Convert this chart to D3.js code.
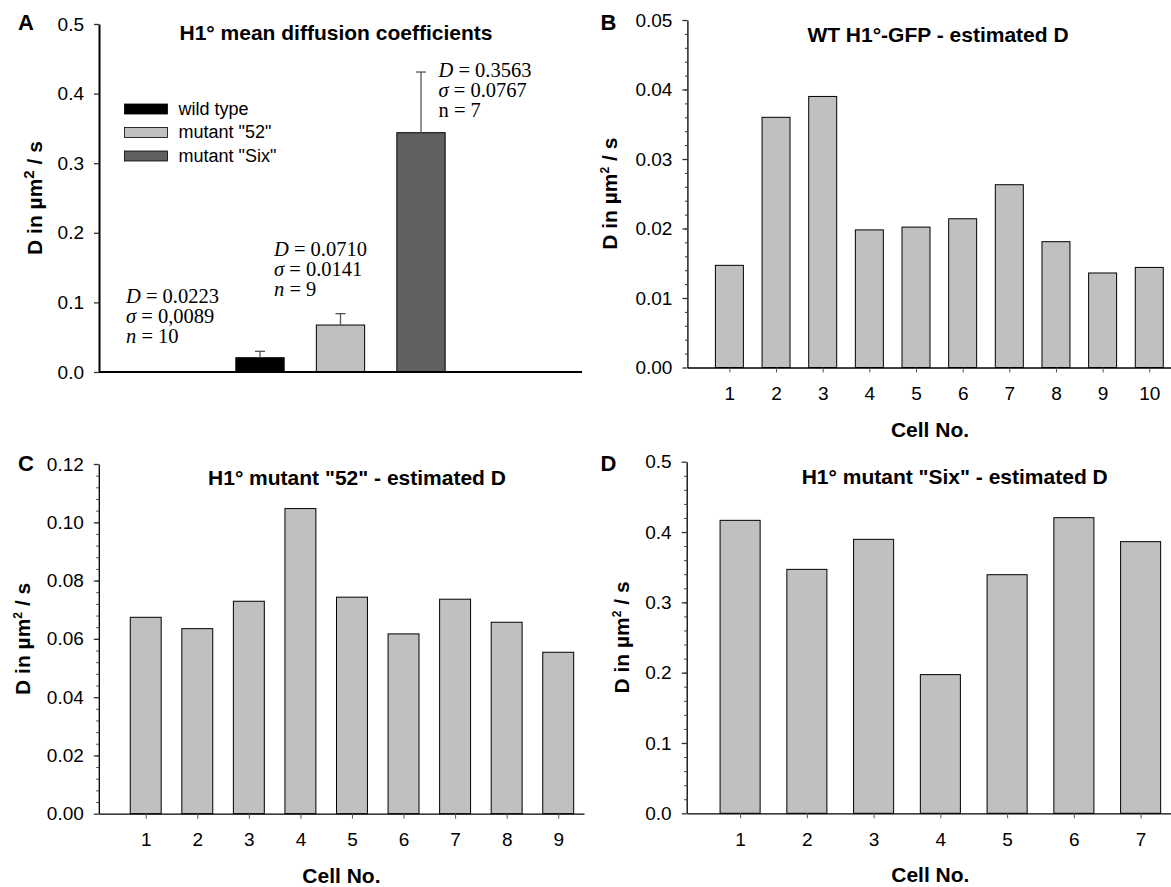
<!DOCTYPE html>
<html>
<head>
<meta charset="utf-8">
<script src="https://cdn.jsdelivr.net/npm/d3@7"></script>
<style>
    body { margin: 0; background: #fff; }
    text { font-family: Arial, "Liberation Sans", sans-serif; fill: #000; }
    .note text { font-family: "Times New Roman", "Liberation Serif", serif; }
</style>
</head>
<body>
<div id="chart"></div>
<script>

// ---- panel A: mean diffusion coefficients ----
const groups = ["wild type", "mutant \"52\"", "mutant \"Six\""];
const groupSlot = [2, 3, 4];
const meanD = [0.0205, 0.0675, 0.3438];
const errD = [0.0092, 0.0163, 0.0872];
const groupFill = ["#000000", "#c0c0c0", "#606060"];

// text blocks printed beside the bars
const noteD = ["0.0223", "0.0710", "0.3563"];
const noteSigma = ["0,0089", "0.0141", "0.0767"];
const noteN = ["10", "9", "7"];

// ---- panels B-D: estimated D per cell ----
const wtCells = [1, 2, 3, 4, 5, 6, 7, 8, 9, 10];
const wtD = [0.0147, 0.0360, 0.0390, 0.0198, 0.0202, 0.0214, 0.0263, 0.0181, 0.0136, 0.0144];

const m52Cells = [1, 2, 3, 4, 5, 6, 7, 8, 9];
const m52D = [0.0674, 0.0635, 0.0729, 0.1047, 0.0743, 0.0617, 0.0736, 0.0657, 0.0554];

const sixCells = [1, 2, 3, 4, 5, 6, 7];
const sixD = [0.4166, 0.3469, 0.3896, 0.1972, 0.3393, 0.4204, 0.3863];

const W = 1171, H = 887;

let svg = d3.select("#chart").append("svg")
    .attr("width", W)
    .attr("height", H);

svg.append("rect").attr("width", W).attr("height", H).attr("fill", "#fff");

// y label with superscript
function yLabel(g, x, yMid, supSize) {
    let t = g.append("text")
        .attr("transform", `translate(${x},${yMid}) rotate(-90)`)
        .attr("text-anchor", "middle")
        .attr("font-size", 21)
        .attr("font-weight", "bold");
    t.append("tspan").text("D in \u00b5m");
    t.append("tspan").attr("dy", -8).attr("font-size", supSize).text("2");
    t.append("tspan").attr("dy", 8).text(" / s");
}

function yAxis(g, y, x0, majors, minors, fmt, width) {
    let ax = g.append("g")
        .attr("transform", `translate(${x0},0)`)
        .call(d3.axisLeft(y).tickValues(majors).tickSize(5).tickSizeOuter(0)
            .tickPadding(10).tickFormat(fmt));
    ax.select(".domain").attr("stroke", "#000").attr("stroke-width", width);
    ax.selectAll(".tick line").attr("stroke", "#333").attr("stroke-width", 1.3);
    ax.selectAll("text").attr("font-size", 19).attr("font-family", "Arial, 'Liberation Sans', sans-serif");

    if (minors) {
        let mx = g.append("g")
            .attr("transform", `translate(${x0},0)`)
            .call(d3.axisLeft(y).tickValues(minors).tickSize(2.5).tickFormat(""));
        mx.select(".domain").remove();
        mx.selectAll(".tick line").attr("stroke", "#333");
    }
}

// ---------------- panel A ----------------
(function() {
    let g = svg.append("g");
    let x = d3.scaleLinear().domain([0, 6]).range([99, 582]);
    let y = d3.scaleLinear().domain([0, 0.5]).range([372, 24]);
    let bw = x(0.6) - x(0);

    g.selectAll(".bar")
        .data(meanD)
        .enter()
        .append("rect")
        .attr("class", "bar")
        .attr("x", (d, i) => x(groupSlot[i]) - bw / 2)
        .attr("y", d => y(d))
        .attr("width", bw)
        .attr("height", d => y(0) - y(d))
        .attr("fill", (d, i) => groupFill[i])
        .attr("stroke", "#000")
        .attr("stroke-width", 1);

    // error bars (upper only)
    meanD.forEach((d, i) => {
        let cx = x(groupSlot[i]);
        g.append("line")
            .attr("x1", cx).attr("x2", cx)
            .attr("y1", y(d)).attr("y2", y(d + errD[i]))
            .attr("stroke", "#555").attr("stroke-width", 1.3);
        g.append("line")
            .attr("x1", cx - 5).attr("x2", cx + 5)
            .attr("y1", y(d + errD[i])).attr("y2", y(d + errD[i]))
            .attr("stroke", "#555").attr("stroke-width", 1.3);
    });

    yAxis(g, y, 99, d3.range(0, 0.51, 0.1), null, d3.format(".1f"), 2);

    // x axis line, no ticks
    g.append("line")
        .attr("x1", x(0)).attr("x2", x(6))
        .attr("y1", y(0)).attr("y2", y(0))
        .attr("stroke", "#000").attr("stroke-width", 2);

    yLabel(g, 42, 198, 15);

    g.append("text")
        .attr("x", 336).attr("y", 39.5)
        .attr("text-anchor", "middle")
        .attr("font-size", 21).attr("font-weight", "bold")
        .text("H1\u00b0 mean diffusion coefficients");

    // legend
    let leg = g.append("g").attr("transform", "translate(124.5,104)");
    groups.forEach((name, i) => {
        leg.append("rect")
            .attr("x", 0).attr("y", i * 23.5)
            .attr("width", 43).attr("height", 10)
            .attr("fill", groupFill[i])
            .attr("stroke", "#000").attr("stroke-width", 0.8);
        leg.append("text")
            .attr("x", 54).attr("y", i * 23.5 + 10.5)
            .attr("font-size", 18)
            .text(name);
    });

    // D / sigma / n notes
    let notePos = [[126, 302.5], [274, 255.5], [438.5, 77]];
    notePos.forEach((p, i) => {
        let nt = g.append("g").attr("class", "note")
            .attr("transform", `translate(${p[0]},${p[1]})`);
        let rows = [
            ["D", noteD[i], true],
            ["\u03c3", noteSigma[i], true],
            ["n", noteN[i], i !== 2]
        ];
        rows.forEach((r, k) => {
            let t = nt.append("text")
                .attr("y", k * 20)
                .attr("font-size", 20.5);
            t.append("tspan").attr("font-style", r[2] ? "italic" : "normal").text(r[0]);
            t.append("tspan").text(" = " + r[1]);
        });
    });

    g.append("text")
        .attr("x", 18).attr("y", 29.5)
        .attr("font-size", 22).attr("font-weight", "bold")
        .text("A");
})();

// ---------------- panels B, C, D ----------------
function cellPanel(cfg) {
    let g = svg.append("g");
    let x = d3.scaleLinear().domain(cfg.xDomain).range(cfg.xRange);
    let y = d3.scaleLinear().domain([0, cfg.yMax]).range(cfg.yRange);
    let bw = x(cfg.xDomain[0] + 0.6) - x(cfg.xDomain[0]);

    g.selectAll(".bar")
        .data(cfg.values)
        .enter()
        .append("rect")
        .attr("x", (d, i) => x(cfg.cells[i]) - bw / 2)
        .attr("y", d => y(d))
        .attr("width", bw)
        .attr("height", d => y(0) - y(d))
        .attr("fill", "#c0c0c0")
        .attr("stroke", "#000")
        .attr("stroke-width", 1);

    yAxis(g, y, cfg.xRange[0], cfg.majors, cfg.minors, cfg.fmt, 1.3);

    let xa = g.append("g")
        .attr("transform", `translate(0,${cfg.yRange[0]})`)
        .call(d3.axisBottom(x).tickValues(cfg.cells).tickSize(5).tickSizeOuter(0)
            .tickPadding(14).tickFormat(d3.format("d")));
    xa.select(".domain").attr("stroke", "#000").attr("stroke-width", 1.3);
    xa.selectAll(".tick line").attr("stroke", "#555");
    xa.selectAll("text").attr("font-size", 19).attr("font-family", "Arial, 'Liberation Sans', sans-serif");

    g.append("text")
        .attr("x", (cfg.xRange[0] + cfg.xRange[1]) / 2)
        .attr("y", cfg.yRange[0] + 69)
        .attr("text-anchor", "middle")
        .attr("font-size", 21).attr("font-weight", "bold")
        .text("Cell No.");

    yLabel(g, cfg.labelX, (cfg.yRange[0] + cfg.yRange[1]) / 2, 12);

    g.append("text")
        .attr("x", cfg.titleX).attr("y", cfg.titleY)
        .attr("text-anchor", "middle")
        .attr("font-size", 21).attr("font-weight", "bold")
        .text(cfg.title);

    g.append("text")
        .attr("x", cfg.letterX).attr("y", cfg.letterY)
        .attr("font-size", 22).attr("font-weight", "bold")
        .text(cfg.letter);
}

cellPanel({
    letter: "B", letterX: 600.5, letterY: 30,
    title: "WT H1\u00b0-GFP - estimated D", titleX: 938, titleY: 41.5,
    cells: wtCells, values: wtD,
    xDomain: [0.1, 10.5], xRange: [687.4, 1172.6],
    yMax: 0.05, yRange: [367.5, 20],
    majors: d3.range(0, 0.0501, 0.01),
    minors: d3.range(0.002, 0.05, 0.002),
    fmt: d3.format(".2f"),
    labelX: 617
});

cellPanel({
    letter: "C", letterX: 18, letterY: 471,
    title: "H1\u00b0 mutant \"52\" - estimated D", titleX: 357, titleY: 484.5,
    cells: m52Cells, values: m52D,
    xDomain: [0.09, 9.5], xRange: [98.8, 584],
    yMax: 0.12, yRange: [813.7, 464],
    majors: d3.range(0, 0.1201, 0.02),
    minors: d3.range(0.004, 0.12, 0.004),
    fmt: d3.format(".2f"),
    labelX: 30
});

cellPanel({
    letter: "D", letterX: 600.5, letterY: 471,
    title: "H1\u00b0 mutant \"Six\" - estimated D", titleX: 954.7, titleY: 483.5,
    cells: sixCells, values: sixD,
    xDomain: [0.2, 7.5], xRange: [686.7, 1174],
    yMax: 0.5, yRange: [813.3, 461.7],
    majors: d3.range(0, 0.501, 0.1),
    minors: d3.range(0.02, 0.5, 0.02),
    fmt: d3.format(".1f"),
    labelX: 629
});

</script>
</body>
</html>
